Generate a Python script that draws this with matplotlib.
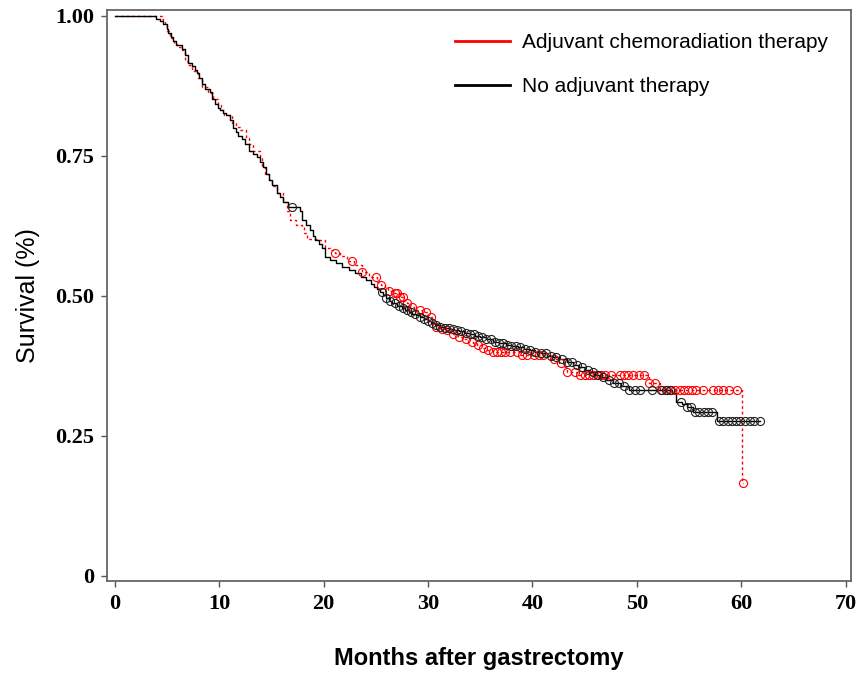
import matplotlib

matplotlib.use("Agg")
import matplotlib.pyplot as plt
import numpy as np
from matplotlib.ticker import FixedLocator

# ---------------------------------------------------------------- data ---
# Kaplan-Meier step knots (month, survival)
chemo_t = [0, 4.5, 4.6, 4.8, 5.0, 5.3, 5.7, 6.0, 6.4, 6.7, 7.0, 7.4, 8.0, 8.4, 8.9,
           9.4, 9.9, 10.2, 10.5, 11.2, 11.6, 12.0, 12.6, 12.9, 13.2, 13.9, 14.1,
           14.4, 14.8, 15.1, 15.5, 16.1, 16.5, 16.8, 17.4, 17.9, 18.1, 18.4, 19.6,
           20.1, 20.6, 21.1, 21.6, 22.2, 22.9, 23.7, 24.4, 25.1, 25.5, 25.9, 26.2,
           26.6, 27.3, 27.7, 28.0, 28.3, 28.7, 29.4, 30.0, 30.4, 30.8, 31.2, 31.6,
           32.0, 32.4, 32.9, 33.4, 33.8, 34.3, 34.7, 35.2, 35.7, 36.2, 38.8, 41.8,
           42.6, 43.0, 43.3, 44.3, 51.2, 52.2, 60.1, 60.2]
chemo_s = [1.0, 0.995, 0.991, 0.982, 0.973, 0.961, 0.950, 0.944, 0.938, 0.920, 0.912,
           0.902, 0.888, 0.872, 0.862, 0.852, 0.840, 0.831, 0.822, 0.809, 0.802,
           0.795, 0.781, 0.770, 0.759, 0.747, 0.729, 0.718, 0.706, 0.695, 0.683,
           0.667, 0.652, 0.635, 0.626, 0.622, 0.612, 0.602, 0.599, 0.586, 0.581,
           0.576, 0.570, 0.562, 0.554, 0.542, 0.533, 0.524, 0.519, 0.514, 0.509,
           0.504, 0.497, 0.491, 0.486, 0.480, 0.474, 0.470, 0.462, 0.453, 0.444,
           0.441, 0.438, 0.435, 0.431, 0.426, 0.422, 0.418, 0.415, 0.411, 0.407,
           0.403, 0.399, 0.394, 0.387, 0.380, 0.372, 0.364, 0.358, 0.344, 0.332,
           0.166, 0.166]

none_t = [0, 4.0, 4.3, 4.6, 5.0, 5.1, 5.4, 5.6, 5.9, 6.4, 6.7, 7.0, 7.4, 7.7, 7.9,
          8.1, 8.4, 8.6, 9.1, 9.3, 9.6, 9.9, 10.1, 10.4, 10.7, 11.0, 11.3, 11.6,
          11.8, 12.2, 12.5, 12.9, 13.2, 13.6, 13.9, 14.2, 14.5, 14.8, 15.1, 15.5,
          15.8, 16.1, 16.6, 17.7, 17.9, 18.3, 18.7, 19.0, 19.2, 19.6, 19.9, 20.1,
          20.6, 21.2, 21.8, 22.4, 23.0, 23.6, 24.1, 24.5, 24.8, 25.1, 25.4, 25.7,
          26.0, 26.3, 26.6, 27.0, 27.5, 27.8, 28.2, 28.5, 28.9, 29.2, 29.6, 30.0,
          30.3, 30.7, 31.1, 31.6, 32.1, 32.5, 33.0, 33.5, 34.0, 34.5, 35.0, 35.6,
          36.2, 36.8, 37.5, 38.0, 38.6, 39.2, 39.8, 40.3, 40.8, 41.4, 42.0, 42.6,
          43.3, 43.9, 44.5, 45.0, 45.5, 46.0, 46.5, 47.1, 47.7, 48.5, 49.3, 53.4,
          53.8, 54.3, 54.8, 55.4, 57.7, 61.8]
none_s = [1.0, 0.995, 0.991, 0.986, 0.977, 0.970, 0.962, 0.955, 0.947, 0.941, 0.929,
          0.916, 0.911, 0.903, 0.897, 0.888, 0.878, 0.870, 0.863, 0.852, 0.843,
          0.836, 0.831, 0.826, 0.822, 0.813, 0.800, 0.793, 0.786, 0.779, 0.770,
          0.759, 0.753, 0.747, 0.738, 0.729, 0.718, 0.706, 0.697, 0.684, 0.676,
          0.667, 0.658, 0.652, 0.635, 0.626, 0.617, 0.607, 0.599, 0.592, 0.585,
          0.569, 0.564, 0.558, 0.551, 0.546, 0.540, 0.534, 0.528, 0.521, 0.516,
          0.511, 0.506, 0.501, 0.496, 0.491, 0.487, 0.482, 0.478, 0.474, 0.471,
          0.468, 0.465, 0.461, 0.458, 0.455, 0.452, 0.448, 0.444, 0.442, 0.440,
          0.438, 0.436, 0.433, 0.431, 0.428, 0.426, 0.422, 0.418, 0.415, 0.412,
          0.410, 0.408, 0.405, 0.403, 0.400, 0.397, 0.393, 0.390, 0.386, 0.381,
          0.377, 0.373, 0.368, 0.364, 0.359, 0.355, 0.349, 0.344, 0.338, 0.332,
          0.326, 0.310, 0.306, 0.302, 0.292, 0.276, 0.276]

# censored observations (months)
chemo_cens = [21.1, 22.7, 23.7, 25.0, 25.5, 26.3, 26.8, 27.0, 27.3, 27.6, 28.0, 28.5,
              29.2, 29.8, 30.3, 30.8, 31.3, 31.8, 32.4, 33.0, 33.6, 34.2, 34.8, 35.3,
              35.8, 36.2, 36.6, 37.0, 37.4, 37.9, 38.5, 39.0, 39.5, 40.2, 40.6, 41.0,
              42.1, 42.7, 43.3, 44.1, 44.6, 45.0, 45.4, 45.8, 46.2, 46.6, 47.0, 47.5,
              48.4, 48.8, 49.2, 49.6, 50.2, 50.7, 51.2, 51.7, 52.4, 52.9, 53.3, 53.7,
              54.1, 54.5, 54.9, 55.3, 55.7, 56.3, 57.3, 57.8, 58.3, 58.8, 59.6, 60.2]
none_cens = [17.0, 25.6, 26.0, 26.4, 26.8, 27.2, 27.6, 28.0, 28.4, 28.8, 29.2, 29.6,
             30.0, 30.4, 30.8, 31.2, 31.6, 32.0, 32.4, 32.8, 33.2, 33.6, 34.0, 34.4,
             34.8, 35.2, 35.6, 36.0, 36.4, 36.8, 37.2, 37.6, 38.0, 38.4, 38.8, 39.3,
             39.8, 40.3, 40.8, 41.3, 41.8, 42.3, 42.8, 43.3, 43.8, 44.3, 44.8, 45.3,
             45.8, 46.3, 46.8, 47.3, 47.8, 48.3, 48.8, 49.3, 49.8, 50.3, 51.5, 52.3,
             52.8, 53.2, 54.2, 54.8, 55.2, 55.6, 56.0, 56.4, 56.8, 57.2, 57.9, 58.3,
             58.7, 59.1, 59.5, 59.9, 60.4, 60.8, 61.2, 61.8]

labels = ["Adjuvant chemoradiation therapy", "No adjuvant therapy"]
xticks = [0, 10, 20, 30, 40, 50, 60, 70]
xminor = [5, 15, 25, 35, 45, 55, 65]
yticks = [0, 0.25, 0.50, 0.75, 1.00]
ytick_labels = ["0", "0.25", "0.50", "0.75", "1.00"]


def step_at(t, s, x):
    """survival of a right-continuous step curve at times x"""
    idx = np.searchsorted(t, x, side="right") - 1
    return np.asarray(s)[np.clip(idx, 0, len(s) - 1)]


# ---------------------------------------------------------------- plot ---
fig = plt.figure(figsize=(8.62, 6.75), dpi=100)
ax = fig.add_axes([0.124, 0.139, 0.863, 0.846])

ax.plot(chemo_t, chemo_s, drawstyle="steps-post", color="red", lw=1.0,
        ls=(0, (2, 2)))
ax.plot(none_t, none_s, drawstyle="steps-post", color="black", lw=1.0)

ax.plot(chemo_cens, step_at(chemo_t, chemo_s, chemo_cens), "o", ms=5.8,
        mfc="none", mec="red", mew=0.8)
ax.plot(none_cens, step_at(none_t, none_s, none_cens), "o", ms=5.8,
        mfc="none", mec="#222222", mew=0.8)

# legend handles
h1, = ax.plot([], [], color="red", lw=2)
h2, = ax.plot([], [], color="black", lw=2)
ax.legend([h1, h2], labels, loc="upper right", frameon=False,
          prop={"family": "Liberation Sans", "size": 15},
          handlelength=2.65, handletextpad=0.55, labelspacing=1.2,
          borderaxespad=0.7)

ax.set_xlim(-0.75, 70.5)
ax.set_ylim(-0.01, 1.01)
ax.set_xticks(xticks)
ax.xaxis.set_minor_locator(FixedLocator(xminor))
ax.set_yticks(yticks)
ax.set_yticklabels(ytick_labels)
for lab in ax.get_xticklabels() + ax.get_yticklabels():
    lab.set_family("Liberation Serif")
    lab.set_weight("bold")
    lab.set_fontsize(16)
ax.tick_params(which="major", length=4, width=1, color="#555555")
ax.tick_params(axis="x", which="major", pad=5)
ax.tick_params(axis="y", which="major", pad=5)
# small white notches in the bottom spine
ax.tick_params(axis="x", which="minor", direction="inout", length=5, width=2,
               color="white")

for sp in ax.spines.values():
    sp.set_color("#666666")
    sp.set_linewidth(1.3)

ax.set_ylabel("Survival (%)", family="Liberation Sans", fontsize=18, labelpad=11)
ax.set_xlabel("Months after gastrectomy", family="Liberation Sans",
              fontsize=17, fontweight="bold", labelpad=24)

fig.savefig("out.png", dpi=100)
